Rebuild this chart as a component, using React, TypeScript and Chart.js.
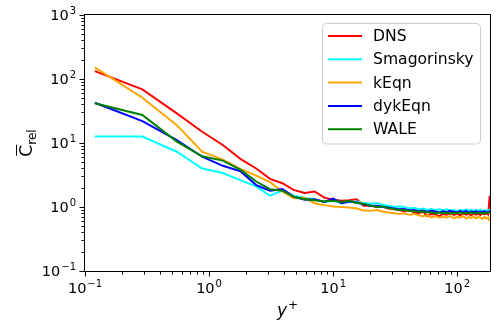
import React, { useEffect, useRef } from "react";
import { Chart, registerables } from "chart.js";
Chart.register(...registerables);

const W = 499;
const H = 331;
const PAD = { left: 85, top: 15, right: 9, bottom: 60 };

const yPlus = [0.12, 0.29, 0.55, 0.88, 1.29, 1.8, 2.4, 3.1, 3.9, 4.8, 5.9, 7.1, 8.5, 10, 11.7, 13.5, 15.5, 17.6, 20, 22.5, 25, 28, 31, 34, 37.5, 41, 45, 49, 53, 57.5, 62, 67, 72, 77, 82.5, 88, 94, 100, 106, 112, 118, 124, 130, 136, 142, 148, 154, 160, 166, 172, 178, 183];

const dns = [133, 69, 29, 15, 9.3, 5.6, 4.0, 2.75, 2.35, 1.85, 1.65, 1.75, 1.4, 1.3, 1.25, 1.28, 1.32, 1.05, 1.05, 1.0, 1.02, 0.95, 0.92, 0.9, 0.86, 0.9, 0.82, 0.8, 0.84, 0.72, 0.78, 0.76, 0.72, 0.78, 0.76, 0.8, 0.75, 0.78, 0.74, 0.8, 0.76, 0.78, 0.74, 0.8, 0.76, 0.78, 0.75, 0.8, 0.77, 0.79, 0.76, 1.5];
const smagorinsky = [12.6, 12.6, 7.3, 4.0, 3.4, 2.6, 2.1, 1.5, 1.8, 1.5, 1.4, 1.3, 1.2, 1.25, 1.15, 1.2, 1.22, 1.15, 1.12, 1.15, 1.08, 1.05, 1.0, 1.02, 1.0, 0.95, 0.97, 0.92, 0.95, 0.9, 0.93, 0.9, 0.92, 0.88, 0.92, 0.88, 0.9, 0.86, 0.9, 0.88, 0.92, 0.87, 0.9, 0.86, 0.9, 0.87, 0.91, 0.86, 0.89, 0.87, 0.9, 0.88];
const kEqn = [152, 51, 19, 7.3, 5.5, 3.9, 3.1, 2.45, 1.75, 1.37, 1.39, 1.14, 1.07, 1.02, 1.0, 0.98, 0.95, 0.88, 0.87, 0.9, 0.85, 0.82, 0.8, 0.78, 0.8, 0.76, 0.78, 0.74, 0.72, 0.74, 0.69, 0.72, 0.68, 0.71, 0.68, 0.72, 0.67, 0.7, 0.68, 0.72, 0.66, 0.7, 0.67, 0.71, 0.66, 0.7, 0.68, 0.65, 0.7, 0.66, 0.69, 0.6];
const dykEqn = [42.6, 22, 11.1, 6.1, 4.4, 3.6, 2.2, 1.8, 1.9, 1.45, 1.3, 1.32, 1.2, 1.35, 1.15, 1.22, 1.18, 1.1, 1.05, 1.05, 1.0, 0.98, 0.95, 0.92, 0.93, 0.88, 0.9, 0.86, 0.88, 0.84, 0.87, 0.85, 0.82, 0.86, 0.83, 0.87, 0.84, 0.82, 0.86, 0.83, 0.87, 0.82, 0.85, 0.83, 0.86, 0.82, 0.85, 0.83, 0.86, 0.82, 0.85, 0.84];
const wale = [41.7, 27.4, 10.5, 6.2, 5.3, 3.8, 2.5, 1.9, 1.8, 1.45, 1.32, 1.28, 1.22, 1.25, 1.2, 1.25, 1.15, 1.12, 1.05, 1.0, 1.02, 0.96, 0.93, 0.9, 0.9, 0.87, 0.86, 0.84, 0.85, 0.82, 0.83, 0.8, 0.82, 0.8, 0.82, 0.79, 0.81, 0.8, 0.82, 0.79, 0.81, 0.8, 0.82, 0.79, 0.81, 0.8, 0.82, 0.79, 0.81, 0.8, 0.82, 0.8];

const seriesNames = ["DNS", "Smagorinsky", "kEqn", "dykEqn", "WALE"];
const seriesColors = ["#ff0000", "#00ffff", "#ffa500", "#0000ff", "#008000"];
const seriesValues = [dns, smagorinsky, kEqn, dykEqn, wale];

const xMajorExps = [-1, 0, 1, 2];
const yMajorExps = [-1, 0, 1, 2, 3];
const X_MIN = 0.1;
const X_MAX = 184;
const Y_MIN = 0.1;
const Y_MAX = 1000;

const FONT = "'DejaVu Sans', sans-serif";

function drawPow(ctx: CanvasRenderingContext2D, exp: number, x: number, baseline: number, align: "center" | "right") {
  const base = "10";
  const e = exp < 0 ? "\u2212" + Math.abs(exp) : String(exp);
  ctx.font = `14.5px ${FONT}`;
  const bw = ctx.measureText(base).width;
  ctx.font = `10px ${FONT}`;
  const ew = ctx.measureText(e).width;
  const total = bw + ew + 1;
  const x0 = align === "center" ? x - total / 2 : x - total;
  ctx.textAlign = "left";
  ctx.textBaseline = "alphabetic";
  ctx.fillStyle = "#000";
  ctx.font = `14.5px ${FONT}`;
  ctx.fillText(base, x0, baseline);
  ctx.font = `10px ${FONT}`;
  ctx.fillText(e, x0 + bw + 1, baseline - 6);
}

const decor = {
  id: "decor",
  afterDraw(chart: any) {
    const ctx: CanvasRenderingContext2D = chart.ctx;
    const ca = chart.chartArea;
    const xs = chart.scales.x;
    const ys = chart.scales.y;
    ctx.save();
    // frame
    ctx.strokeStyle = "#000";
    ctx.lineWidth = 1;
    ctx.strokeRect(ca.left - 0.5, ca.top - 0.5, ca.right - ca.left + 1, ca.bottom - ca.top + 1);
    // ticks
    ctx.beginPath();
    for (let e = -1; e <= 2; e++) {
      for (let m = 1; m <= 9; m++) {
        const v = m * Math.pow(10, e);
        if (v < X_MIN - 1e-9 || v > X_MAX) continue;
        const px = Math.round(xs.getPixelForValue(v)) + 0.5;
        const len = m === 1 ? 5 : 3;
        ctx.moveTo(px, ca.bottom + 0.5);
        ctx.lineTo(px, ca.bottom + 0.5 + len);
      }
    }
    for (let e = -1; e <= 3; e++) {
      for (let m = 1; m <= 9; m++) {
        const v = m * Math.pow(10, e);
        if (v < Y_MIN - 1e-9 || v > Y_MAX + 1e-9) continue;
        const py = Math.round(ys.getPixelForValue(v)) + 0.5;
        const len = m === 1 ? 5 : 3;
        ctx.moveTo(ca.left - 0.5, py);
        ctx.lineTo(ca.left - 0.5 - len, py);
      }
    }
    ctx.stroke();
    // tick labels
    for (const e of xMajorExps) {
      const px = xs.getPixelForValue(Math.pow(10, e));
      drawPow(ctx, e, px, ca.bottom + 22, "center");
    }
    for (const e of yMajorExps) {
      const py = ys.getPixelForValue(Math.pow(10, e));
      drawPow(ctx, e, ca.left - 9, py + 5, "right");
    }
    // x title: y^+
    ctx.fillStyle = "#000";
    ctx.textAlign = "left";
    ctx.textBaseline = "alphabetic";
    ctx.font = `italic 17px ${FONT}`;
    const yw = ctx.measureText("y").width;
    ctx.font = `12px ${FONT}`;
    const pw = ctx.measureText("+").width;
    const tx = (ca.left + ca.right) / 2 - (yw + pw + 1) / 2;
    ctx.font = `italic 17px ${FONT}`;
    ctx.fillText("y", tx, 316);
    ctx.font = `12px ${FONT}`;
    ctx.fillText("+", tx + yw + 1, 309);
    // y title: overline C_rel
    ctx.save();
    ctx.translate(32, (ca.top + ca.bottom) / 2);
    ctx.rotate(-Math.PI / 2);
    ctx.font = `17px ${FONT}`;
    const cw = ctx.measureText("C").width;
    ctx.font = `12px ${FONT}`;
    const rw = ctx.measureText("rel").width;
    const sx = -(cw + rw) / 2;
    ctx.font = `17px ${FONT}`;
    ctx.fillText("C", sx, 0);
    ctx.font = `12px ${FONT}`;
    ctx.fillText("rel", sx + cw, 4);
    ctx.beginPath();
    ctx.lineWidth = 1;
    ctx.moveTo(sx + 1, -15.5);
    ctx.lineTo(sx + cw, -15.5);
    ctx.stroke();
    ctx.restore();
    // legend
    const lx = 322.5, ly = 23.5, lw = 158, lh = 120.5, r = 4;
    ctx.beginPath();
    ctx.moveTo(lx + r, ly);
    ctx.lineTo(lx + lw - r, ly);
    ctx.arcTo(lx + lw, ly, lx + lw, ly + r, r);
    ctx.lineTo(lx + lw, ly + lh - r);
    ctx.arcTo(lx + lw, ly + lh, lx + lw - r, ly + lh, r);
    ctx.lineTo(lx + r, ly + lh);
    ctx.arcTo(lx, ly + lh, lx, ly + lh - r, r);
    ctx.lineTo(lx, ly + r);
    ctx.arcTo(lx, ly, lx + r, ly, r);
    ctx.closePath();
    ctx.fillStyle = "rgba(255,255,255,0.8)";
    ctx.fill();
    ctx.strokeStyle = "#cccccc";
    ctx.lineWidth = 1;
    ctx.stroke();
    for (let i = 0; i < seriesNames.length; i++) {
      const yy = 36 + i * 23.3;
      ctx.beginPath();
      ctx.strokeStyle = seriesColors[i];
      ctx.lineWidth = 2;
      ctx.moveTo(328, yy);
      ctx.lineTo(362, yy);
      ctx.stroke();
      ctx.fillStyle = "#000";
      ctx.font = `15.6px ${FONT}`;
      ctx.textAlign = "left";
      ctx.textBaseline = "middle";
      ctx.fillText(seriesNames[i], 373, yy + 1);
    }
    ctx.restore();
  },
};

export default function App() {
  const ref = useRef<HTMLCanvasElement | null>(null);
  useEffect(() => {
    if (!ref.current) return;
    const datasets = seriesNames.map((name, i) => ({
      label: name,
      data: yPlus.map((x, j) => ({ x, y: seriesValues[i][j] })),
      borderColor: seriesColors[i],
      backgroundColor: seriesColors[i],
      borderWidth: 2,
      pointRadius: 0,
      fill: false,
      tension: 0,
      order: seriesNames.length - i,
    }));
    const chart = new Chart(ref.current, {
      type: "line",
      data: { datasets },
      options: {
        responsive: false,
        animation: false,
        events: [],
        layout: { padding: PAD },
        plugins: { legend: { display: false }, tooltip: { enabled: false } },
        scales: {
          x: { type: "logarithmic", min: X_MIN, max: X_MAX, display: false },
          y: { type: "logarithmic", min: Y_MIN, max: Y_MAX, display: false },
        },
      },
      plugins: [decor],
    });
    return () => chart.destroy();
  }, []);
  return (
    <div style={{ position: "fixed", left: 0, top: 0, width: W, height: H, background: "#fff" }}>
      <canvas ref={ref} width={W} height={H} style={{ width: W, height: H, display: "block" }} />
    </div>
  );
}
